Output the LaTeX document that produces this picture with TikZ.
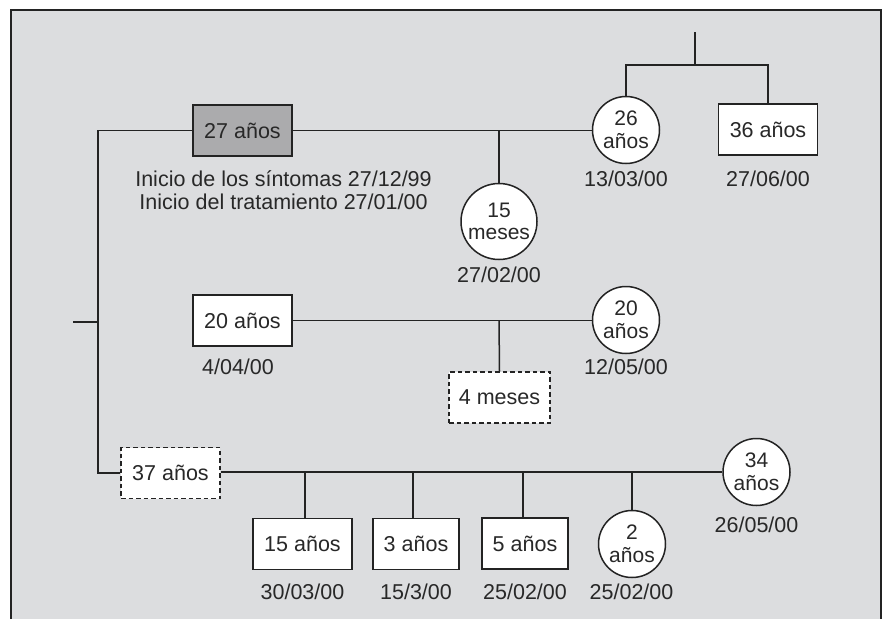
\documentclass[tikz,border=0pt]{standalone}
\usepackage{fontspec}
\setmainfont{Liberation Sans}
\definecolor{bgcol}{RGB}{220,221,223}
\definecolor{graybox}{RGB}{171,171,173}
\definecolor{linec}{RGB}{35,35,35}
\definecolor{txt}{RGB}{40,40,40}
\begin{document}
\begin{tikzpicture}[x=1pt,y=-1pt,
  every node/.style={text=txt},
  box/.style={draw=linec, line width=1.7pt, fill=white, minimum width=99pt, minimum height=51pt, inner sep=0pt, font=\fontsize{21.5}{23.3}\selectfont},
  dbox/.style={box, line width=1.5pt, dash pattern=on 4.5pt off 3pt},
  circ/.style={circle, draw=linec, line width=1.5pt, fill=white, minimum size=67pt, inner sep=0pt, align=center, font=\fontsize{21}{22.7}\selectfont},
  lbl/.style={anchor=base, inner sep=0pt, font=\fontsize{21.5}{23.3}\selectfont},
  conn/.style={draw=linec, line width=1.5pt}
]
\useasboundingbox (0,0) rectangle (883,619);
% background panel
\fill[bgcol] (11,10) rectangle (881,619);
\draw[linec, line width=2pt] (11,619) -- (11,10) -- (881,10) -- (881,619);

% row 1
\node[box, fill=graybox] (n27) at (242.5,130.5) {27 años};
\node[circ] (c26) at (626,130) {26\\años};
\node[box] (b36) at (768,129.5) {36 años};
\node[circ, minimum size=76pt] (c15) at (499,221.5) {15\\meses};
\coordinate (j1) at (499,130.5);
\coordinate (top) at (695,32);
\coordinate (jt) at (695,65);

\node[lbl] (ini1) at (283.5,186) {Inicio de los síntomas 27/12/99};
\node[lbl] (ini2) at (283.5,209.3) {Inicio del tratamiento 27/01/00};
\node[lbl] (d26) at (626,186.5) {13/03/00};
\node[lbl] (d36) at (768,186.5) {27/06/00};
\node[lbl] (d15) at (499,282.3) {27/02/00};

% row 2
\node[box] (b20) at (242.5,320.5) {20 años};
\node[circ] (c20) at (626,320) {20\\años};
\node[dbox, minimum width=101pt] (d4) at (499.5,397.5) {4 meses};
\coordinate (j2) at (499,320.5);
\node[lbl] (d20) at (238,374.3) {4/04/00};
\node[lbl] (d20b) at (626,374.3) {12/05/00};

% row 3
\node[dbox] (d37) at (170.5,473) {37 años};
\node[circ] (c34) at (756.5,472) {34\\años};
\node[box] (b15) at (302.5,544) {15 años};
\node[box, minimum width=86pt] (b3) at (416,544) {3 años};
\node[box, minimum width=86pt] (b5) at (525,543.5) {5 años};
\node[circ] (c2) at (632,544) {2\\años};
\coordinate (j31) at (305,473);
\coordinate (j32) at (413,473);
\coordinate (j33) at (523,473);
\coordinate (j34) at (632,473);
\node[lbl] (d15b) at (302.5,599) {30/03/00};
\node[lbl] (d3) at (416,599) {15/3/00};
\node[lbl] (d5) at (525,599) {25/02/00};
\node[lbl] (d2) at (631.5,599) {25/02/00};
\node[lbl] (d34) at (756.5,532.7) {26/05/00};

% left spine
\coordinate (L1) at (98,130.5);
\coordinate (jL) at (98,322);
\coordinate (stub) at (73,322);

% connectors
\draw[conn] (n27.west) -- (L1) |- (d37.west);
\draw[conn] (stub) -- (jL);
\draw[conn] (n27.east) -- (c26.west |- n27.east);
\draw[conn] (j1) -- (c15.north);
\draw[conn] (top) -- (jt);
\draw[conn] (c26.north) |- (jt) -| (b36.north);
\draw[conn] (b20.east) -- (c20.west |- b20.east);
\draw[conn] (j2) -- (d4.north);
\draw[conn] (d37.east |- c34.west) -- (c34.west);
\draw[conn] (j31) -- (j31 |- b15.north);
\draw[conn] (j32) -- (j32 |- b3.north);
\draw[conn] (j33) -- (j33 |- b5.north);
\draw[conn] (j34) -- (c2.north);
\end{tikzpicture}
\end{document}
